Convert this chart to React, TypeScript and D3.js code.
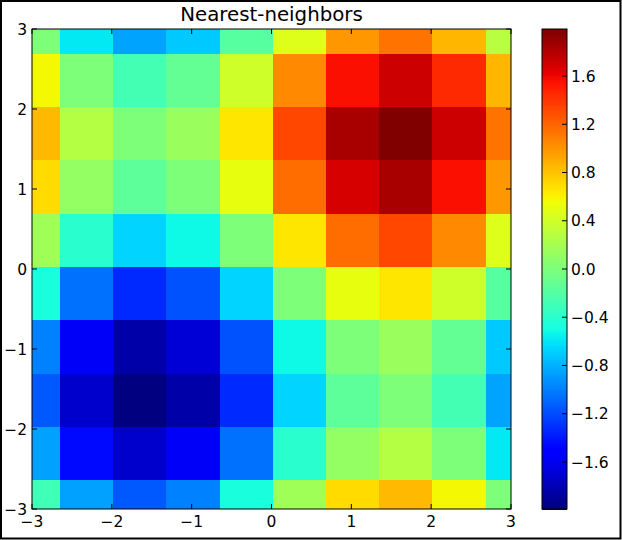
import React from 'react';
import * as d3 from 'd3';

// Grid centres (data units) and cell values
const X_CENTERS = [-3, -2.333, -1.667, -1, -0.333, 0.333, 1, 1.667, 2.333, 3];
const Y_CENTERS = [3, 2.333, 1.667, 1, 0.333, -0.333, -1, -1.667, -2.333, -3];
const Z_ROWS: number[][] = [
  [0.0, -0.582, -0.854, -0.7, -0.186, 0.468, 0.982, 1.136, 0.864, 0.282],
  [0.582, 0.0, -0.272, -0.118, 0.396, 1.05, 1.564, 1.718, 1.446, 0.864],
  [0.854, 0.272, 0.0, 0.154, 0.668, 1.322, 1.836, 1.99, 1.718, 1.136],
  [0.7, 0.118, -0.154, 0.0, 0.514, 1.168, 1.682, 1.836, 1.564, 0.982],
  [0.186, -0.396, -0.668, -0.514, 0.0, 0.654, 1.168, 1.322, 1.05, 0.468],
  [-0.468, -1.05, -1.322, -1.168, -0.654, 0.0, 0.514, 0.668, 0.396, -0.186],
  [-0.982, -1.564, -1.836, -1.682, -1.168, -0.514, 0.0, 0.154, -0.118, -0.7],
  [-1.136, -1.718, -1.99, -1.836, -1.322, -0.668, -0.154, 0.0, -0.272, -0.854],
  [-0.864, -1.446, -1.718, -1.564, -1.05, -0.396, 0.118, 0.272, 0.0, -0.582],
  [-0.282, -0.864, -1.136, -0.982, -0.468, 0.186, 0.7, 0.854, 0.582, 0.0],
];
const AXIS_TICKS = [-3, -2, -1, 0, 1, 2, 3];
const CBAR_TICKS = [-1.6, -1.2, -0.8, -0.4, 0.0, 0.4, 0.8, 1.2, 1.6];
const V_MIN = -1.99;
const V_MAX = 1.99;
const TITLE = 'Nearest-neighbors';

// matplotlib "jet" segment data
const JET_R = [[0, 0], [0.35, 0], [0.66, 1], [0.89, 1], [1, 0.5]];
const JET_G = [[0, 0], [0.125, 0], [0.375, 1], [0.64, 1], [0.91, 0], [1, 0]];
const JET_B = [[0, 0.5], [0.11, 1], [0.34, 1], [0.65, 0], [1, 0]];

function seg(s: number[][], t: number) {
  for (let i = 1; i < s.length; i++) {
    if (t <= s[i][0]) {
      const [x0, y0] = s[i - 1];
      const [x1, y1] = s[i];
      return y0 + ((t - x0) / (x1 - x0)) * (y1 - y0);
    }
  }
  return s[s.length - 1][1];
}
function jet(t: number) {
  const i = Math.min(255, Math.max(0, Math.floor(t * 256)));
  const u = i / 255;
  return d3.rgb(seg(JET_R, u) * 255, seg(JET_G, u) * 255, seg(JET_B, u) * 255).formatHex();
}

const W = 622;
const H = 540;
const PL = 32, PR = 511, PT = 29, PB = 509;
const CBL = 542, CBR = 567;
const FONT = 'DejaVu Sans, sans-serif';
const CELL_DX = 1.3;
const CELL_DY = -2;
const TICK = 5;
const TICK_FONT = 15.5;

const fmtMinus = (s: string) => s.replace('-', '\u2212');

export default function App() {
  const x = d3.scaleLinear().domain([-3, 3]).range([PL, PR]);
  const y = d3.scaleLinear().domain([-3, 3]).range([PB, PT]);
  const cy = d3.scaleLinear().domain([V_MIN, V_MAX]).range([PB, PT]);
  const norm = d3.scaleLinear().domain([V_MIN, V_MAX]).range([0, 1]).clamp(true);
  const half = 1 / 3;

  const cells: React.ReactNode[] = [];
  Z_ROWS.forEach((row, r) => {
    row.forEach((v, c) => {
      const x0 = x(X_CENTERS[c] - half) + CELL_DX;
      const x1 = x(X_CENTERS[c] + half) + CELL_DX;
      const y0 = y(Y_CENTERS[r] + half) + CELL_DY;
      const y1 = y(Y_CENTERS[r] - half) + CELL_DY;
      cells.push(
        <rect key={`${r}-${c}`} x={x0} y={y0} width={x1 - x0 + 0.5} height={y1 - y0 + 0.5}
          fill={jet(norm(v))} shapeRendering="crispEdges" />
      );
    });
  });

  const bands = d3.range(256).map((i) => {
    const v0 = V_MIN + (i / 256) * (V_MAX - V_MIN);
    const v1 = V_MIN + ((i + 1) / 256) * (V_MAX - V_MIN);
    const yTop = cy(v1);
    const yBot = cy(v0);
    return (
      <rect key={i} x={CBL} y={yTop} width={CBR - CBL} height={yBot - yTop + 0.6}
        fill={jet((i + 0.5) / 256)} shapeRendering="crispEdges" />
    );
  });

  return (
    <svg width={W} height={H} style={{ position: 'absolute', left: 0, top: 0, background: '#fff' }}
      fontFamily={FONT}>
      <rect x={0} y={0} width={W} height={H} fill="#fff" />
      <defs>
        <clipPath id="plotclip">
          <rect x={PL} y={PT} width={PR - PL} height={PB - PT} />
        </clipPath>
      </defs>
      <g clipPath="url(#plotclip)">{cells}</g>
      <rect x={PL} y={PT} width={PR - PL} height={PB - PT} fill="none" stroke="#000" strokeWidth={1} />
      {AXIS_TICKS.map((t) => (
        <g key={`xt${t}`}>
          <line x1={x(t)} x2={x(t)} y1={PB} y2={PB - TICK} stroke="#000" />
          <line x1={x(t)} x2={x(t)} y1={PT} y2={PT + TICK} stroke="#000" />
          <text x={x(t)} y={527} textAnchor="middle" fontSize={TICK_FONT}>{fmtMinus(String(t))}</text>
        </g>
      ))}
      {AXIS_TICKS.map((t) => (
        <g key={`yt${t}`}>
          <line x1={PL} x2={PL + TICK} y1={y(t)} y2={y(t)} stroke="#000" />
          <line x1={PR} x2={PR - TICK} y1={y(t)} y2={y(t)} stroke="#000" />
          <text x={PL - 5} y={y(t)} dy="0.36em" textAnchor="end" fontSize={TICK_FONT}>{fmtMinus(String(t))}</text>
        </g>
      ))}
      <text x={(PL + PR) / 2} y={21} textAnchor="middle" fontSize={19.8}>{TITLE}</text>
      {bands}
      <rect x={CBL} y={PT} width={CBR - CBL} height={PB - PT} fill="none" stroke="#000" strokeWidth={1} />
      {CBAR_TICKS.map((t) => (
        <g key={`ct${t}`}>
          <line x1={CBR} x2={CBR - TICK} y1={cy(t)} y2={cy(t)} stroke="#000" />
          <text x={CBR + 4} y={cy(t)} dy="0.36em" textAnchor="start" fontSize={TICK_FONT}>{fmtMinus(t.toFixed(1))}</text>
        </g>
      ))}
      <rect x={1} y={1} width={W - 2.5} height={H - 2.5} fill="none" stroke="#000" strokeWidth={2} />
    </svg>
  );
}
